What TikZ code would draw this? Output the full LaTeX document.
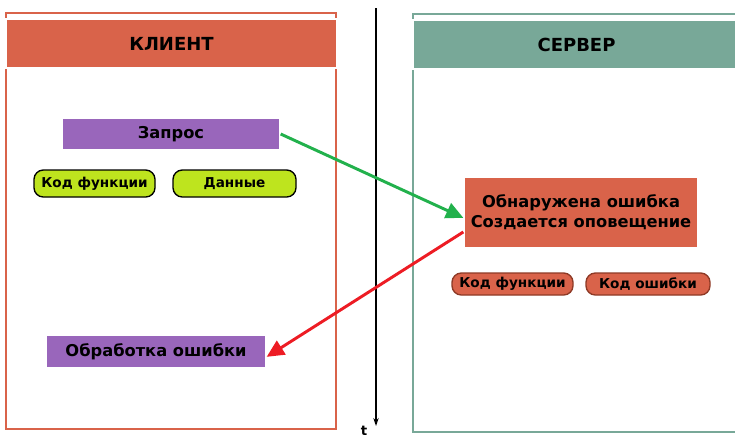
\documentclass[tikz,border=0pt]{standalone}
\usepackage{fontspec}
\setmainfont{DejaVu Sans}
\usetikzlibrary{arrows.meta,shadows}
\definecolor{klientcol}{HTML}{D9634A}
\definecolor{servercol}{HTML}{78A898}
\definecolor{zaproscol}{HTML}{9966BB}
\definecolor{limecol}{HTML}{BEE41E}
\definecolor{okcol}{HTML}{22B14C}
\definecolor{errcol}{HTML}{ED1C24}
\definecolor{pillcol}{HTML}{8E3A26}

\begin{document}
\begin{tikzpicture}[x=0.75pt,y=-0.75pt,
    header/.style={draw=white,line width=1pt,minimum height=36.75pt,
        font=\bfseries\fontsize{13.5}{16}\selectfont,
        drop shadow={shadow xshift=0.8pt,shadow yshift=-0.8pt,opacity=0.25}},
    msgbox/.style={draw=white,line width=1pt,fill=zaproscol,
        font=\bfseries\fontsize{12.2}{15}\selectfont,
        drop shadow={shadow xshift=0.8pt,shadow yshift=-0.8pt,opacity=0.25}},
    pill/.style={rounded corners=7pt,line width=1pt,inner sep=1pt,
        font=\bfseries\fontsize{10.2}{12}\selectfont},
    flow/.style={line width=2.2pt,-{Triangle[length=13pt,width=12pt]}}]
                \useasboundingbox (0,0) rectangle (735,437);
                \fill[white] (0,0) rectangle (735,437);

                % frames
                \draw[klientcol,line width=0.9pt] (6,13) rectangle (336,429);
                \draw[servercol,line width=0.9pt] (413,14) rectangle (745,432);

                % headers
                \node[header,fill=klientcol,minimum width=248.25pt] (klient) at (171.5,43.5) {КЛИЕНТ};
                \node[header,fill=servercol,minimum width=245.25pt] (server) at (576.5,44.5) {СЕРВЕР};

                % time axis
                \coordinate (ttop) at (376,8);
                \coordinate (tbot) at (376,426);
                \draw[line width=1.1pt,-{Stealth[length=6pt,width=4pt]}] (ttop) -- (tbot);
                \node[font=\bfseries\fontsize{10}{12}\selectfont,anchor=base,inner sep=0pt] (tlabel) at (364,435.5) {t};

                % client side
                \node[msgbox,minimum width=163.5pt,minimum height=24pt] (zapros) at (171,134) {Запрос};
                \node[pill,draw=black,fill=limecol,minimum width=90.75pt,minimum height=20.25pt] (kodf) at (94.5,183.5) {Код функции};
                \node[pill,draw=black,fill=limecol,minimum width=92.25pt,minimum height=20.25pt] (dannye) at (234.5,183.5) {Данные};
                \node[msgbox,minimum width=165pt,minimum height=24.75pt] (obrabotka) at (156,351.5) {Обработка ошибки};

                % server side
                \node[msgbox,fill=klientcol,minimum width=175.5pt,minimum height=53.25pt,align=center] (oshibka) at (581,212.5)
                    {Обнаружена ошибка\\Создается оповещение};
                \node[pill,draw=pillcol,fill=klientcol,minimum width=90.75pt,minimum height=16.5pt] (skodf) at (512.5,284) {Код функции};
                \node[pill,draw=pillcol,fill=klientcol,minimum width=93pt,minimum height=16.5pt] (skodo) at (648,284) {Код ошибки};

                % messages
                \draw[flow,okcol] (zapros.east) -- ([yshift=-4pt]oshibka.west);
                \draw[flow,errcol] ([yshift=-14.6pt]oshibka.west) -- ([yshift=-4pt]obrabotka.east);
\end{tikzpicture}
\end{document}
